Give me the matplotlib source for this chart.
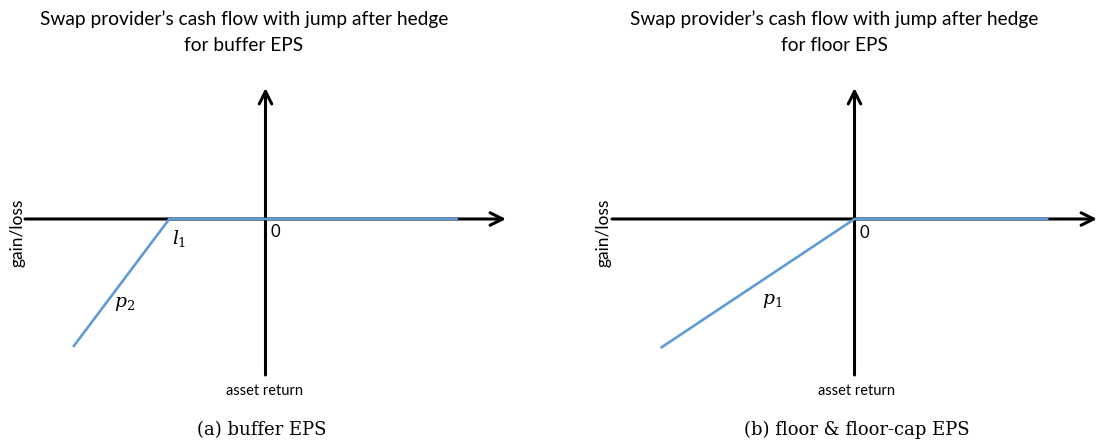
import numpy as np
import matplotlib.pyplot as plt

W, H = 1099, 448

# payoff data (asset return -> gain/loss)
buffer_x = [-2, -1, 2]
buffer_y = [-1.33, 0, 0]
floor_x = [-2, 0, 2]
floor_y = [-1.33, 0, 0]

titles = ["Swap provider\u2019s cash flow with jump after hedge\nfor buffer EPS",
          "Swap provider\u2019s cash flow with jump after hedge\nfor floor EPS"]
captions = ["(a) buffer EPS", "(b) floor & floor-cap EPS"]

blue = "#5f9bd5"
sans = "Lato"

def fx(px):
    return px / W

def fy(py):
    return 1 - py / H

fig = plt.figure(figsize=(W / 100, H / 100), dpi=100)

# axes boxes in pixels: left, right, top, bottom
boxes = [(25, 506, 88, 375), (612, 1097, 88, 375)]
zero_y = 219
panels = [(buffer_x, buffer_y), (floor_x, floor_y)]

axes = []
for (l, r, t, b) in boxes:
    ax = fig.add_axes([fx(l), fy(b), fx(r - l), (b - t) / H])
    unit = (r - l) / 5.0
    ax.set_xlim(-2.5, 2.5)
    ax.set_ylim(-(b - zero_y) / unit, (zero_y - t) / unit)
    ax.axis("off")
    axes.append(ax)

for ax, (x, y) in zip(axes, panels):
    x0, x1 = ax.get_xlim()
    y0, y1 = ax.get_ylim()
    arr = dict(arrowstyle="->,head_length=0.9,head_width=0.45", lw=2.2, color="black",
               shrinkA=0, shrinkB=0)
    ax.annotate("", xy=(x1, 0), xytext=(x0, 0), arrowprops=arr, annotation_clip=False)
    ax.annotate("", xy=(0, y1), xytext=(0, y0), arrowprops=arr, annotation_clip=False)
    ax.plot(x, y, color=blue, lw=1.9, solid_capstyle="butt", zorder=3)
    ax.text(0.05, -0.14, "0", fontsize=12, family=sans, va="center", ha="left")

# labels on lines
axes[0].text(-0.97, -0.2, r"$l_1$", fontsize=13.5, va="center", ha="left",
             math_fontfamily="dejavuserif")
axes[0].text(-1.46, -0.88, r"$p_2$", fontsize=13.5, va="center", ha="center",
             math_fontfamily="dejavuserif")
axes[1].text(-0.85, -0.84, r"$p_1$", fontsize=13.5, va="center", ha="center",
             math_fontfamily="dejavuserif")

for cx, tx, ax_x, cap_x, ttl, cap in [(244, 17, 265, 262, titles[0], captions[0]),
                                      (834, 604, 857, 857, titles[1], captions[1])]:
    fig.text(fx(cx), fy(32), ttl, ha="center", va="center", fontsize=13.8,
             family=sans, linespacing=1.65)
    fig.text(fx(tx), fy(233), "gain/loss", rotation=90, ha="center", va="center",
             fontsize=12.5, family=sans)
    fig.text(fx(ax_x), fy(391), "asset return", ha="center", va="center",
             fontsize=10.5, family=sans)
    fig.text(fx(cap_x), fy(430), cap, ha="center", va="center", fontsize=13,
             family="DejaVu Serif")

fig.savefig("out.png", dpi=100)
